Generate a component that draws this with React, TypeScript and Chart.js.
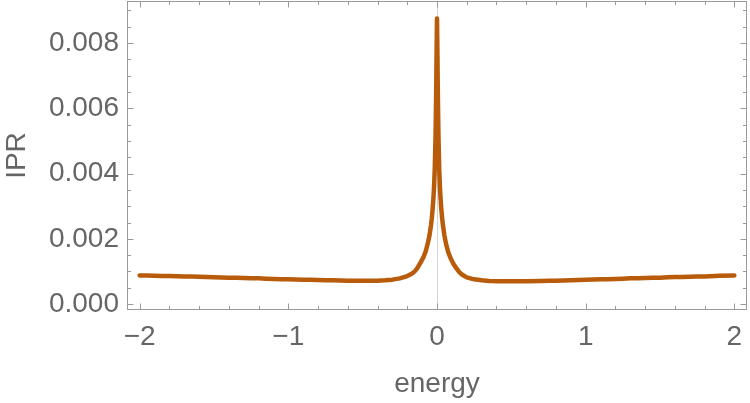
import React, { useEffect, useRef } from "react";
import { Chart, registerables } from "chart.js";

Chart.register(...registerables);

const energy: number[] = [
  -2.0, -1.9, -1.8, -1.7, -1.6, -1.5, -1.4, -1.3, -1.2, -1.1, -1.0, -0.9, -0.8, -0.7, -0.6, -0.5, -0.4, -0.35,
  -0.3, -0.25, -0.2, -0.17, -0.15, -0.13, -0.11, -0.09, -0.075, -0.06, -0.05, -0.04, -0.035, -0.03, -0.025,
  -0.02, -0.015, -0.01, -0.006, -0.003, 0,
  0.003, 0.006, 0.01, 0.015, 0.02, 0.025, 0.03, 0.035, 0.04, 0.05, 0.06, 0.075, 0.09, 0.11, 0.13, 0.15, 0.17,
  0.2, 0.25, 0.3, 0.35, 0.4, 0.5, 0.6, 0.7, 0.8, 0.9, 1.0, 1.1, 1.2, 1.3, 1.4, 1.5, 1.6, 1.7, 1.8, 1.9, 2.0,
];

const ipr: number[] = [
  0.00088, 0.00087, 0.00086, 0.00085, 0.00084, 0.00082, 0.00081, 0.0008, 0.00079, 0.00077, 0.00076, 0.00075,
  0.00074, 0.00073, 0.00072, 0.00072, 0.00072, 0.00073, 0.00075, 0.00079, 0.00086, 0.00093, 0.001, 0.00112,
  0.00128, 0.00145, 0.00163, 0.0019, 0.00212, 0.00243, 0.00263, 0.00288, 0.00318, 0.00358, 0.00415, 0.0051,
  0.0063, 0.0076, 0.00875,
  0.0076, 0.0063, 0.0051, 0.00414, 0.00356, 0.00316, 0.00286, 0.00262, 0.00242, 0.0021, 0.00186, 0.0016,
  0.00142, 0.00124, 0.0011, 0.00098, 0.0009, 0.00082, 0.00076, 0.00073, 0.00071, 0.0007, 0.0007, 0.0007,
  0.00071, 0.00072, 0.00073, 0.00075, 0.00076, 0.00077, 0.00079, 0.0008, 0.00081, 0.00083, 0.00084, 0.00085,
  0.00087, 0.00088,
];

const xMajorTicks: number[] = [-2, -1, 0, 1, 2];
const xMinorTicks: number[] = [
  -1.8, -1.6, -1.4, -1.2, -0.8, -0.6, -0.4, -0.2, 0.2, 0.4, 0.6, 0.8, 1.2, 1.4, 1.6, 1.8,
];
const yMajorTicks: number[] = [0, 0.002, 0.004, 0.006, 0.008];
const yMinorTicks: number[] = [
  0.0005, 0.001, 0.0015, 0.0025, 0.003, 0.0035, 0.0045, 0.005, 0.0055, 0.0065, 0.007, 0.0075, 0.0085, 0.009,
];

const xTitle = "energy";
const yTitle = "IPR";

const X_MIN = -2.085;
const X_MAX = 2.085;
const Y_MIN = -0.00018;
const Y_MAX = 0.00929;

const LINE_COLOR = "#b85b0a";
const TEXT_COLOR = "#666666";
const FRAME_COLOR = "#9a9a9a";
const FONT = "'Liberation Sans', Arial, sans-serif";

const framePlugin = {
  id: "mmaFrame",
  beforeDatasetsDraw(chart: any) {
    const { ctx, chartArea, scales } = chart;
    const { top, bottom } = chartArea;
    const x0 = Math.round(scales.x.getPixelForValue(0)) + 0.5;
    ctx.save();
    ctx.strokeStyle = "#d4d4d4";
    ctx.lineWidth = 1;
    ctx.beginPath();
    ctx.moveTo(x0, top);
    ctx.lineTo(x0, bottom);
    ctx.stroke();
    ctx.restore();
  },
  afterDatasetsDraw(chart: any) {
    const { ctx, chartArea, scales } = chart;
    const { left, right, top, bottom } = chartArea;
    const L = Math.round(left) + 0.5;
    const R = Math.round(right) - 0.5;
    const T = Math.round(top) + 0.5;
    const B = Math.round(bottom) - 0.5;
    ctx.save();
    ctx.strokeStyle = FRAME_COLOR;
    ctx.lineWidth = 1;
    ctx.strokeRect(L, T, R - L, B - T);
    const xt = (v: number, len: number) => {
      const p = Math.round(scales.x.getPixelForValue(v)) + 0.5;
      ctx.moveTo(p, B);
      ctx.lineTo(p, B - len);
      ctx.moveTo(p, T);
      ctx.lineTo(p, T + len);
    };
    const yt = (v: number, len: number) => {
      const p = Math.round(scales.y.getPixelForValue(v)) + 0.5;
      ctx.moveTo(L, p);
      ctx.lineTo(L + len, p);
      ctx.moveTo(R, p);
      ctx.lineTo(R - len, p);
    };
    ctx.beginPath();
    xMajorTicks.forEach((v) => xt(v, 6));
    xMinorTicks.forEach((v) => xt(v, 3.5));
    yMajorTicks.forEach((v) => yt(v, 6));
    yMinorTicks.forEach((v) => yt(v, 3.5));
    ctx.stroke();
    ctx.restore();
  },
};

export default function App() {
  const canvasRef = useRef<HTMLCanvasElement | null>(null);

  useEffect(() => {
    const canvas = canvasRef.current;
    if (!canvas) return;
    const points = energy.map((e, i) => ({ x: e, y: ipr[i] }));
    const chart = new Chart(canvas, {
      type: "line",
      data: {
        datasets: [
          {
            data: points,
            borderColor: LINE_COLOR,
            backgroundColor: LINE_COLOR,
            borderWidth: 4.5,
            borderJoinStyle: "round",
            borderCapStyle: "round",
            pointRadius: 0,
            tension: 0.000001,
            fill: false,
          },
        ],
      },
      options: {
        animation: false,
        responsive: false,
        devicePixelRatio: 1,
        layout: { padding: { top: 1, right: 3, left: 0, bottom: 0 } },
        plugins: { legend: { display: false }, tooltip: { enabled: false } },
        scales: {
          x: {
            type: "linear",
            min: X_MIN,
            max: X_MAX,
            grid: { display: false, drawTicks: false },
            border: { display: false },
            afterBuildTicks: (scale: any) => {
              scale.ticks = xMajorTicks.map((value) => ({ value }));
            },
            afterFit: (scale: any) => {
              scale.height = 93;
              scale.paddingLeft = 0;
              scale.paddingRight = 0;
            },
            ticks: {
              color: TEXT_COLOR,
              font: { family: FONT, size: 28 },
              padding: 10,
              maxRotation: 0,
              autoSkip: false,
              callback: (v: any) => (Number(v) < 0 ? "\u2212" + Math.abs(Number(v)) : String(v)),
            },
            title: {
              display: true,
              text: xTitle,
              color: TEXT_COLOR,
              font: { family: FONT, size: 28 },
              padding: { top: 0, bottom: 2 },
            },
          },
          y: {
            type: "linear",
            min: Y_MIN,
            max: Y_MAX,
            grid: { display: false, drawTicks: false },
            border: { display: false },
            afterBuildTicks: (scale: any) => {
              scale.ticks = yMajorTicks.map((value) => ({ value }));
            },
            afterFit: (scale: any) => {
              scale.width = 127;
              scale.paddingTop = 0;
              scale.paddingBottom = 0;
            },
            ticks: {
              color: TEXT_COLOR,
              font: { family: FONT, size: 28 },
              padding: 8,
              autoSkip: false,
              callback: (v: any) => Number(v).toFixed(3),
            },
            title: {
              display: true,
              text: yTitle,
              color: TEXT_COLOR,
              font: { family: FONT, size: 28 },
              padding: { top: 0, bottom: 0 },
            },
          },
        },
      },
      plugins: [framePlugin],
    });
    return () => chart.destroy();
  }, []);

  return (
    <div style={{ position: "fixed", left: 0, top: 0, width: 750, height: 403, background: "#fff" }}>
      <canvas ref={canvasRef} width={750} height={403} style={{ display: "block" }} />
    </div>
  );
}
